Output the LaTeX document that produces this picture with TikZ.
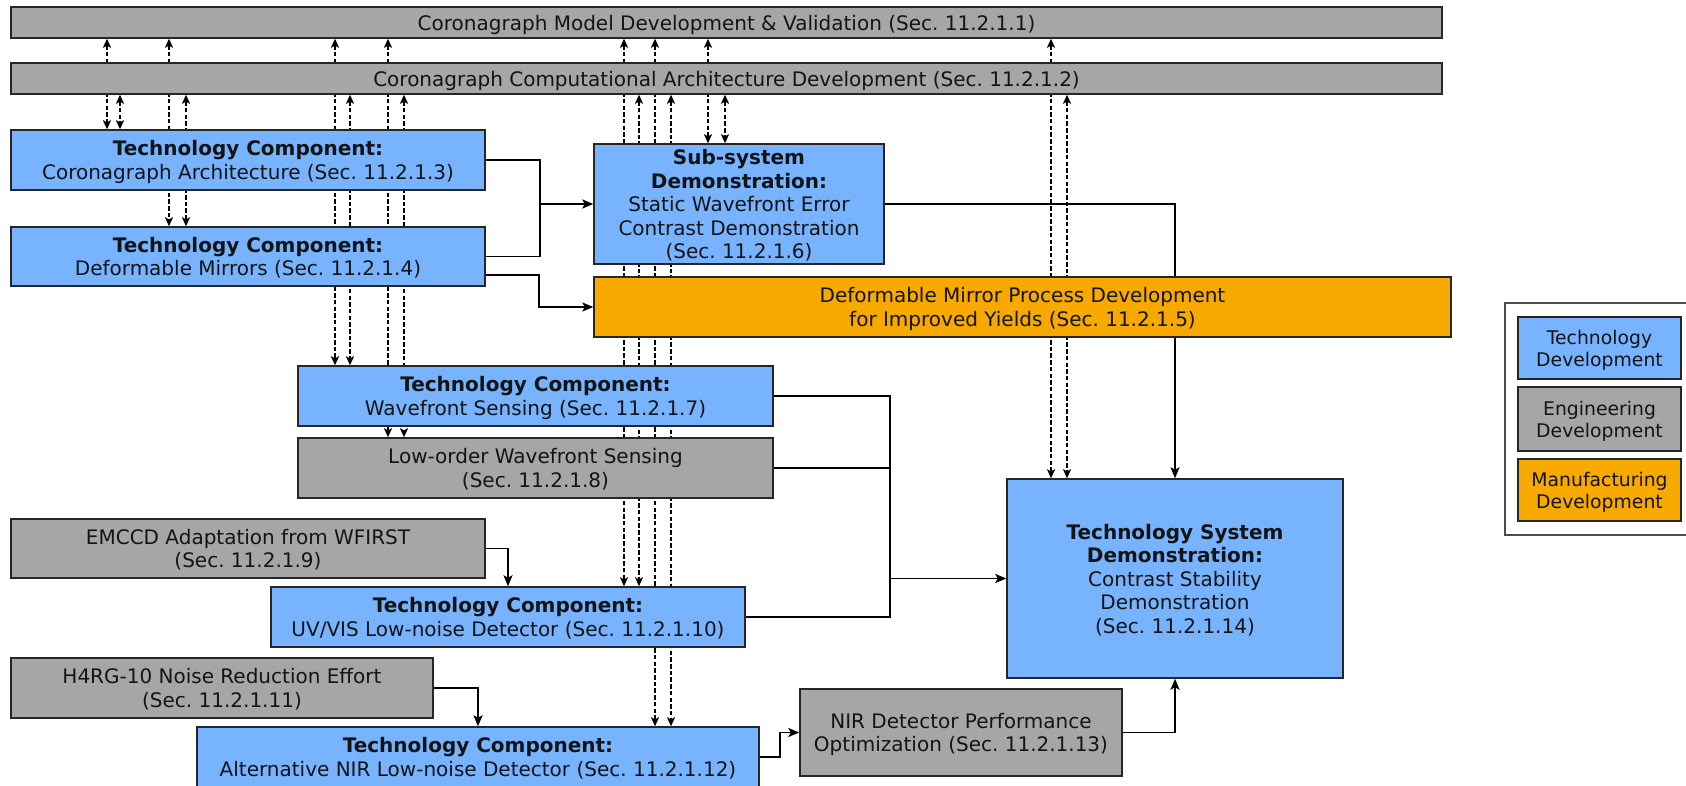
\documentclass[tikz,border=0pt]{standalone}
\usepackage{fontspec}
\setmainfont{DejaVu Sans}
\usetikzlibrary{arrows.meta,calc,backgrounds}
\definecolor{techblue}{RGB}{119,179,255}
\definecolor{enggray}{RGB}{166,166,166}
\definecolor{mfgorange}{RGB}{247,169,0}
\pgfdeclarelayer{bg0}
\pgfsetlayers{bg0,background,main}
\frenchspacing
\begin{document}
\begin{tikzpicture}[x=1pt,y=-1pt,
  box/.style={draw=black!85, line width=1.4pt, inner sep=0pt, align=center,
    font=\fontsize{20}{23.5}\selectfont, text=black!92, text depth=0pt},
  tech/.style={box, fill=techblue},
  eng/.style={box, fill=enggray},
  mfg/.style={box, fill=mfgorange},
  legbox/.style={minimum width=163pt, font=\fontsize{18.8}{22}\selectfont},
  conn/.style={line width=1.9pt, -{Stealth[length=11pt,width=9pt,inset=2.5pt]}},
  plainln/.style={line width=1.9pt},
  dl/.style={line width=1.6pt, dash pattern=on 4.5pt off 2.2pt,
    {Stealth[length=9pt,width=8pt,inset=2pt]}-{Stealth[length=9pt,width=8pt,inset=2pt]}},
]
\useasboundingbox (0,0) rectangle (1686,785);
\begin{pgfonlayer}{bg0}
  \fill[white] (0,0) rectangle (1686,785);
\end{pgfonlayer}

% bars
\node[eng, minimum width=1431pt, minimum height=31pt] (model) at (726.5,22.5)
  {Coronagraph Model Development \& Validation (Sec. 11.2.1.1)};
\node[eng, minimum width=1431pt, minimum height=31pt] (cca) at (726.5,78.5)
  {Coronagraph Computational Architecture Development (Sec. 11.2.1.2)};

% boxes
\node[tech, minimum width=474pt, minimum height=60pt] (ca) at (248,160)
  {{\bfseries Technology Component:}\\Coronagraph Architecture (Sec. 11.2.1.3)};
\node[tech, minimum width=474pt, minimum height=59pt] (dm) at (248,256.5)
  {{\bfseries Technology Component:}\\Deformable Mirrors (Sec. 11.2.1.4)};
\node[tech, minimum width=290pt, minimum height=120pt] (sub) at (739,204)
  {{\bfseries Sub-system}\\{\bfseries Demonstration:}\\Static Wavefront Error\\Contrast Demonstration\\(Sec. 11.2.1.6)};
\node[mfg, minimum width=857pt, minimum height=60pt] (dmp) at (1022.5,307)
  {Deformable Mirror Process Development\\for Improved Yields (Sec. 11.2.1.5)};
\node[tech, minimum width=475pt, minimum height=60pt] (wfs) at (535.5,396)
  {{\bfseries Technology Component:}\\Wavefront Sensing (Sec. 11.2.1.7)};
\node[eng, minimum width=475pt, minimum height=60pt] (lowfs) at (535.5,468)
  {Low-order Wavefront Sensing\\(Sec. 11.2.1.8)};
\node[eng, minimum width=474pt, minimum height=59pt] (emccd) at (248,548.5)
  {EMCCD Adaptation from WFIRST\\(Sec. 11.2.1.9)};
\node[tech, minimum width=474pt, minimum height=60pt] (uvvis) at (508,617)
  {{\bfseries Technology Component:}\\UV/VIS Low-noise Detector (Sec. 11.2.1.10)};
\node[eng, minimum width=422pt, minimum height=60pt] (h4rg) at (222,688)
  {H4RG-10 Noise Reduction Effort\\(Sec. 11.2.1.11)};
\node[tech, minimum width=562pt, minimum height=60pt] (altnir) at (478,757)
  {{\bfseries Technology Component:}\\Alternative NIR Low-noise Detector (Sec. 11.2.1.12)};
\node[eng, minimum width=322pt, minimum height=87pt] (nirdet) at (961,732.5)
  {NIR Detector Performance\\Optimization (Sec. 11.2.1.13)};
\node[tech, minimum width=336pt, minimum height=199pt] (tsd) at (1175,578.5)
  {{\bfseries Technology System}\\{\bfseries Demonstration:}\\Contrast Stability\\Demonstration\\(Sec. 11.2.1.14)};

% legend
\node[draw=black!70, line width=1.4pt, fill=white, minimum width=187pt, minimum height=232pt, inner sep=0pt] (legend) at (1598.5,419) {};
\node[tech, legbox, minimum height=62pt] (ltech) at (1599.5,348) {Technology\\Development};
\node[eng, legbox, minimum height=64pt] (leng) at (1599.5,419) {Engineering\\Development};
\node[mfg, legbox, minimum height=62pt] (lmfg) at (1599.5,490) {Manufacturing\\Development};

\begin{pgfonlayer}{background}
  \coordinate (j1) at (540,204);
  \draw[plainln] (ca.east) -| (j1);
  \draw[plainln] (dm.east) -| (j1);
  \draw[conn] (j1) -- (sub.west);
  \coordinate (dmo) at (485,275);
  \draw[conn] (dmo) -| ($(dmp.west)+(-54,0)$) -- (dmp.west);
  \draw[conn] (sub.east) -| (tsd.north);
  \coordinate (j2) at (890,578.5);
  \draw[plainln] (wfs.east) -| (j2);
  \draw[plainln] (lowfs.east) -| (j2);
  \draw[plainln] (uvvis.east) -| (j2);
  \draw[conn] (j2) -- (tsd.west);
  \draw[conn] (emccd.east) -| (uvvis.north);
  \draw[conn] (h4rg.east) -| (altnir.north);
  \coordinate (j3) at (780,757);
  \draw[conn] (altnir.east) -- (j3) |- (nirdet.west);
  \draw[conn] (nirdet.east) -| (tsd.south);
  \foreach \b/\xa/\xb in {ca/107/120, dm/169/186, wfs/335/350, lowfs/388/404,
      sub/708/725, uvvis/624/639, altnir/655/671, tsd/1051/1067} {
    \coordinate (pa) at (\xa,0);
    \coordinate (pb) at (\xb,0);
    \draw[dl] (model.south -| pa) -- (\b.north -| pa);
    \draw[dl] (cca.south -| pb) -- (\b.north -| pb);
  }
\end{pgfonlayer}
\end{tikzpicture}
\end{document}
